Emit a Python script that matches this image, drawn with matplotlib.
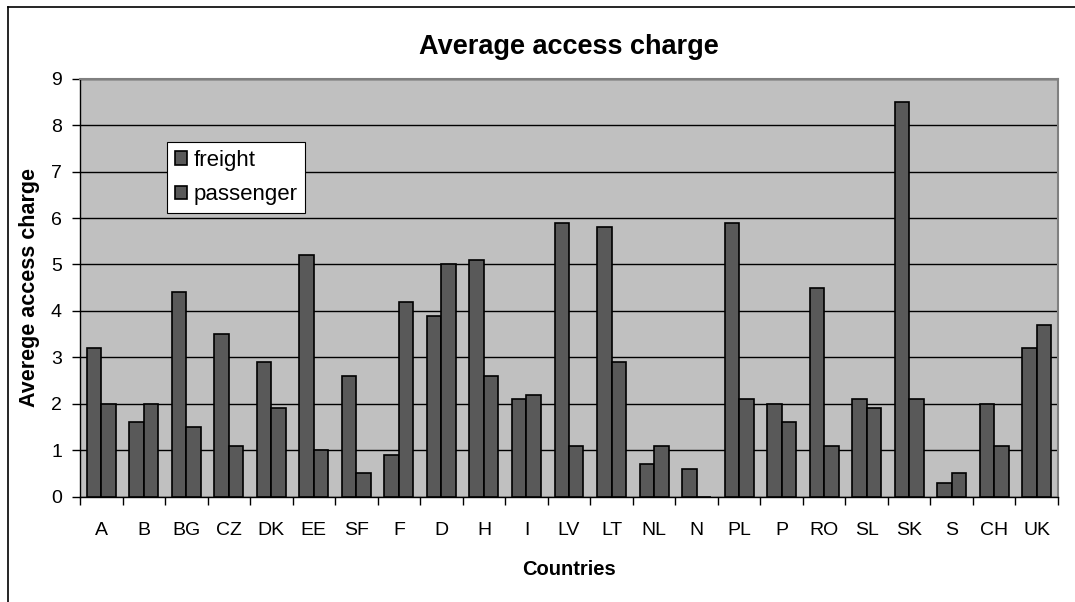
import numpy as np
import matplotlib.pyplot as plt
from matplotlib.lines import Line2D
from matplotlib.ticker import FixedLocator

plt.rcParams['font.family'] = ['Liberation Sans', 'DejaVu Sans']

countries = ["A", "B", "BG", "CZ", "DK", "EE", "SF", "F", "D", "H", "I", "LV",
             "LT", "NL", "N", "PL", "P", "RO", "SL", "SK", "S", "CH", "UK"]
freight = [3.2, 1.6, 4.4, 3.5, 2.9, 5.2, 2.6, 0.9, 3.9, 5.1, 2.1, 5.9,
           5.8, 0.7, 0.6, 5.9, 2.0, 4.5, 2.1, 8.5, 0.3, 2.0, 3.2]
passenger = [2.0, 2.0, 1.5, 1.1, 1.9, 1.0, 0.5, 4.2, 5.0, 2.6, 2.2, 1.1,
             2.9, 1.1, 0.0, 2.1, 1.6, 1.1, 1.9, 2.1, 0.5, 1.1, 3.7]

bar_color = "#595959"
bg_color = "#C0C0C0"

fig = plt.figure(figsize=(10.75, 6.02), dpi=100)
ax = fig.add_axes([80 / 1075, 1 - 496.7 / 602, 978 / 1075, 418 / 602])
ax.set_facecolor(bg_color)

x = np.arange(len(countries))
w = 0.34
ax.bar(x - w / 2, freight, w, color=bar_color, edgecolor="black",
       linewidth=1.2, label="freight", zorder=3)
ax.bar(x + w / 2, passenger, w, color=bar_color, edgecolor="black",
       linewidth=1.2, label="passenger", zorder=3)

ax.set_xlim(-0.5, len(countries) - 0.5)
ax.set_ylim(0, 9)
ax.set_yticks(range(10))
ax.yaxis.grid(True, color="black", linewidth=1.0, zorder=1)
ax.set_axisbelow(True)

ax.set_xticks(x)
ax.set_xticklabels(countries)
ax.xaxis.set_minor_locator(FixedLocator(np.arange(-0.5, len(countries), 1.0)))
ax.tick_params(axis="x", which="major", length=0, pad=18, labelsize=14)
ax.tick_params(axis="x", which="minor", length=6, width=1, direction="out")
ax.tick_params(axis="y", length=6, width=1, direction="out", pad=7, labelsize=14)

for side in ("left", "bottom"):
    ax.spines[side].set_color("black")
    ax.spines[side].set_linewidth(1.0)
for side in ("top", "right"):
    ax.spines[side].set_color("#808080")
    ax.spines[side].set_linewidth(1.5)

ax.set_title("Average access charge", fontsize=19.5, fontweight="bold", pad=18)
ax.set_xlabel("Countries", fontsize=14.5, fontweight="bold", labelpad=15)
ax.set_ylabel("Averege access charge", fontsize=15.5, fontweight="bold", labelpad=8)

leg = ax.legend(loc="upper left", bbox_to_anchor=(167 / 1075, 1 - 142 / 602),
                bbox_transform=fig.transFigure, fontsize=16, frameon=True,
                fancybox=False, edgecolor="black", framealpha=1,
                handlelength=0.55, handleheight=0.55, handletextpad=0.3,
                labelspacing=0.6, borderpad=0.35, borderaxespad=0)
leg.get_frame().set_linewidth(0.8)

# outer chart border (top and left edges)
fig.add_artist(Line2D([8 / 1075, 1.0], [1 - 6.5 / 602, 1 - 6.5 / 602],
                      color="black", linewidth=1.2, transform=fig.transFigure))
fig.add_artist(Line2D([8 / 1075, 8 / 1075], [0.0, 1 - 6.5 / 602],
                      color="black", linewidth=1.2, transform=fig.transFigure))

fig.savefig("out.png", dpi=100)
